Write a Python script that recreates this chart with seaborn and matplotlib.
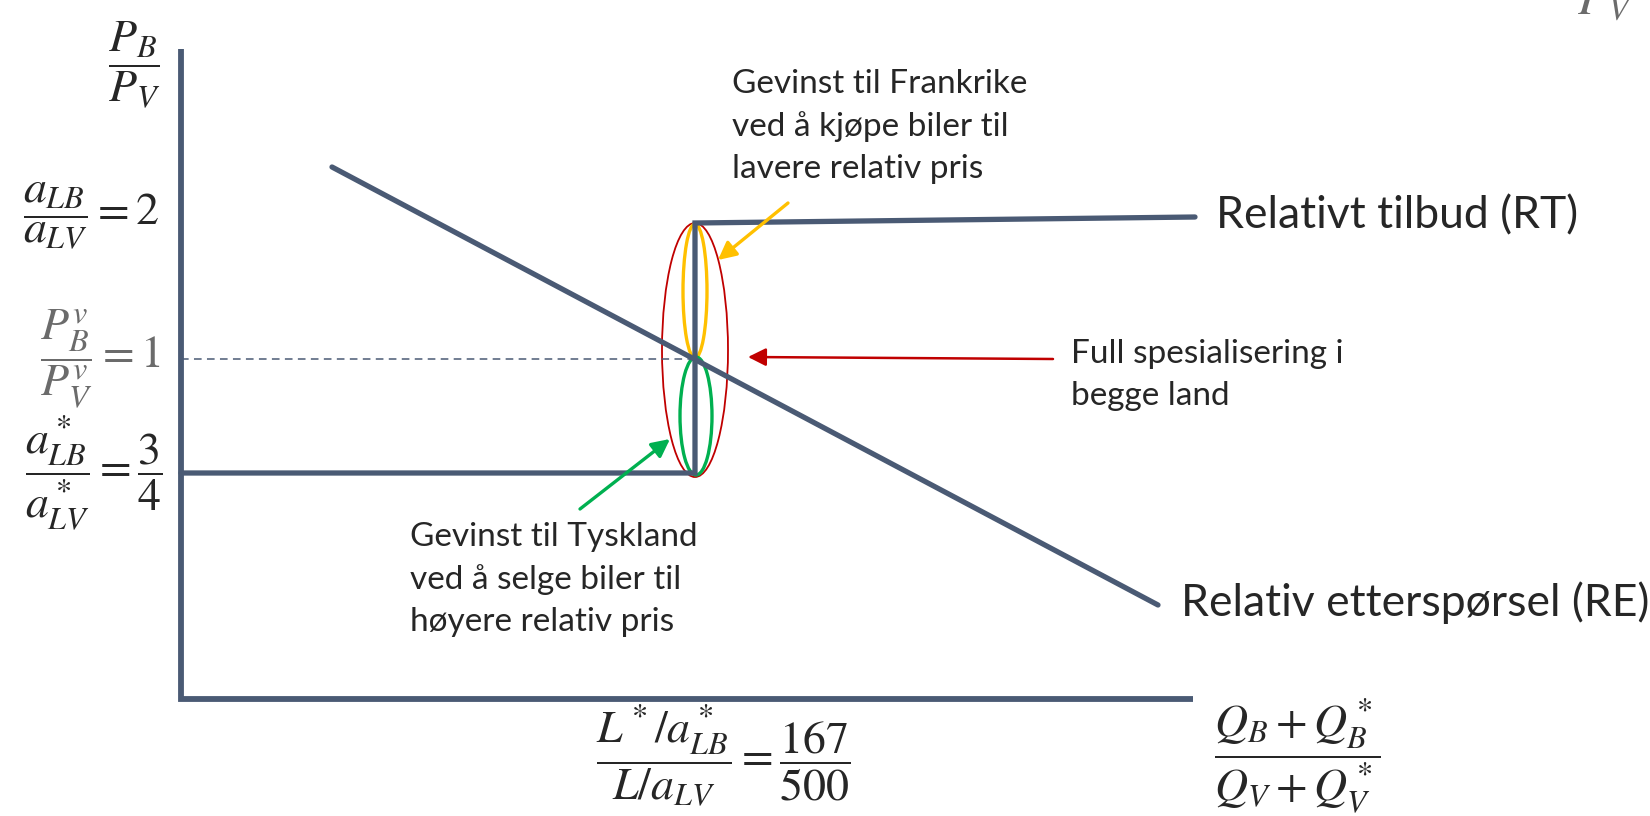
import numpy as np
import pandas as pd
import matplotlib.pyplot as plt
import seaborn as sns
from matplotlib.patches import Ellipse

sns.set_theme(style="white")
plt.rcParams['font.family'] = ['Lato', 'DejaVu Sans']
plt.rcParams['mathtext.fontset'] = 'stix'

# diagram units, origin in the corner of the axes
axis_x = [0, 0, 1012]
axis_y = [650, 0, 0]
rt_x = [0, 514, 514, 1014]      # relativt tilbud
rt_y = [226, 226, 476, 482]
re_x = [151, 977]               # relativ etterspørsel
re_y = [532, 94]
world_y = 340                   # PB/PV = 1
kink_x = 514

# y-levels for the tick fractions
lvl_2 = 483
lvl_1 = 340
lvl_34 = 226

LINE = '#4A5A74'
TXT = '#262626'
GREY = '#6B6B6B'

fig = plt.figure(figsize=(16.5, 8.16), dpi=100)
ax = fig.add_axes([0, 0, 1, 1])
ax.set_xlim(-181, 1469)
ax.set_ylim(-117, 699)
ax.axis('off')

# axes of the diagram
sns.lineplot(x=axis_x, y=axis_y, sort=False, estimator=None, ax=ax,
             color=LINE, lw=4.2, solid_joinstyle='miter', solid_capstyle='butt')
# RT and RE
sns.lineplot(x=rt_x, y=rt_y, sort=False, estimator=None, ax=ax,
             color=LINE, lw=3.8, solid_joinstyle='miter')
sns.lineplot(x=re_x, y=re_y, sort=False, estimator=None, ax=ax,
             color=LINE, lw=3.8)
ax.plot([0, kink_x], [world_y, world_y], color=LINE, lw=1.1, ls=(0, (5, 3.5)))

# ellipses
ax.add_patch(Ellipse((kink_x, 349), 66, 254, fill=False, ec='#C00000', lw=1.3))
ax.add_patch(Ellipse((kink_x, 408), 24, 134, fill=False, ec='#FFC000', lw=2.4))
ax.add_patch(Ellipse((kink_x + 1, 283), 32, 118, fill=False, ec='#00B050', lw=2.4))

# arrows
ax.annotate('', xy=(537, 439), xytext=(607, 496),
            arrowprops=dict(arrowstyle='-|>,head_length=0.9,head_width=0.45',
                            color='#FFC000', lw=2.4, shrinkA=0, shrinkB=0))
ax.annotate('', xy=(489, 260), xytext=(399, 190),
            arrowprops=dict(arrowstyle='-|>,head_length=0.9,head_width=0.45',
                            color='#00B050', lw=2.4, shrinkA=0, shrinkB=0))
ax.annotate('', xy=(567, 342), xytext=(872, 340),
            arrowprops=dict(arrowstyle='-|>,head_length=0.9,head_width=0.45',
                            color='#C00000', lw=1.8, shrinkA=0, shrinkB=0))

# text boxes
fs = 24
ax.text(551, 630, 'Gevinst til Frankrike\nved å kjøpe biler til\nlavere relativ pris',
        fontsize=fs, color=TXT, va='top', ha='left', linespacing=1.5)
ax.text(229, 177, 'Gevinst til Tyskland\nved å selge biler til\nhøyere relativ pris',
        fontsize=fs, color=TXT, va='top', ha='left', linespacing=1.5)
ax.text(890, 360, 'Full spesialisering i\nbegge land',
        fontsize=fs, color=TXT, va='top', ha='left', linespacing=1.5)
ax.text(1035, 483, 'Relativt tilbud (RT)', fontsize=32, color=TXT, va='center', ha='left')
ax.text(1000, 96, 'Relativ etterspørsel (RE)', fontsize=32, color=TXT, va='center', ha='left')

# axis labels
mfs = 33
ax.text(-47, 634, r'$\dfrac{P_B}{P_V}$', fontsize=mfs, color=TXT, ha='center', va='center')
ax.text(-21, lvl_2, r'$\dfrac{a_{LB}}{a_{LV}}=2$', fontsize=mfs, color=TXT, ha='right', va='center')
ax.text(-21, lvl_1, r'$\dfrac{P_B^v}{P_V^v}=1$', fontsize=mfs, color=GREY, ha='right', va='center')
ax.text(-18, lvl_34, r'$\dfrac{a_{LB}^*}{a_{LV}^*}=\dfrac{3}{4}$', fontsize=mfs, color=TXT,
        ha='right', va='center')
ax.text(542, -57, r'$\dfrac{L^*/a_{LB}^*}{L/a_{LV}}=\dfrac{167}{500}$', fontsize=mfs, color=TXT,
        ha='center', va='center')
ax.text(1116, -57, r'$\dfrac{Q_B+Q_B^*}{Q_V+Q_V^*}$', fontsize=mfs, color=TXT,
        ha='center', va='center')
ax.text(1396, 676, r'$P_V$', fontsize=36, color=GREY, ha='left', va='bottom')

fig.savefig('out.png', dpi=100)
